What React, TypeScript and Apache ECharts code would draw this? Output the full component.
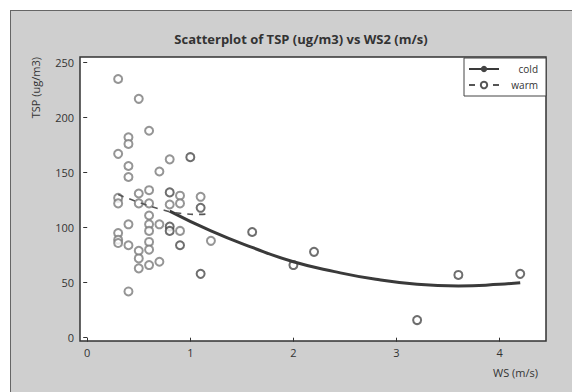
import React, { useEffect, useRef } from "react";
import * as echarts from "echarts";

const coldWS = [0.8, 0.8, 0.8, 0.9, 1.0, 1.1, 1.1, 1.6, 2.0, 2.2, 3.2, 3.6, 4.2];
const coldTSP = [132, 101, 97, 84, 164, 118, 58, 96, 66, 78, 16, 57, 58];

const warmWS = [
  0.3, 0.5, 0.6, 0.4, 0.4, 0.3, 0.8, 0.4, 0.4, 0.7,
  0.3, 0.3, 0.5, 0.6, 0.9, 1.1, 0.5, 0.6, 0.8, 0.9,
  0.6, 0.4, 0.6, 0.7, 0.6, 0.9, 0.3, 0.3, 0.3, 0.4,
  0.6, 0.6, 1.2, 0.5, 0.5, 0.5, 0.6, 0.7, 0.4,
];
const warmTSP = [
  235, 217, 188, 182, 176, 167, 162, 156, 146, 151,
  127, 122, 131, 134, 129, 128, 122, 122, 121, 122,
  111, 103, 103, 103, 97, 97, 95, 89, 86, 84,
  87, 80, 88, 79, 72, 63, 66, 69, 42,
];

const coldFitWS = [0.8, 1.2, 1.6, 2.0, 2.4, 2.8, 3.2, 3.6, 4.0, 4.2];
const coldFitTSP = [115, 97, 82, 69, 60, 53, 48.5, 47, 48.5, 50];

const warmFitWS = [0.3, 0.5, 0.7, 0.9, 1.1, 1.2];
const warmFitTSP = [130, 123, 117, 113, 112, 113];

const xTicks = [0, 1, 2, 3, 4];
const yTicks = [0, 50, 100, 150, 200, 250];

const pair = (xs: number[], ys: number[]) => xs.map((x, i) => [x, ys[i]]);

export default function App() {
  const ref = useRef<HTMLDivElement>(null);
  useEffect(() => {
    document.body.style.margin = "0";
    const chart = echarts.init(ref.current!, null, { renderer: "svg" });
    const font = "'Open Sans', 'DejaVu Sans', sans-serif";
    chart.setOption({
      animation: false,
      backgroundColor: "#cfcfcf",
      textStyle: { fontFamily: font },
      title: {
        text: "Scatterplot of TSP (ug/m3) vs WS2 (m/s)",
        left: 296,
        textAlign: "center",
        top: 27,
        textStyle: { fontSize: 13, fontWeight: "bold", color: "#333", fontFamily: font },
      },
      graphic: [
        { type: "rect", shape: { x: 0, y: 0, width: 572, height: 10 }, style: { fill: "#fff" }, silent: true },
        { type: "rect", shape: { x: 0, y: 0, width: 10, height: 392 }, style: { fill: "#fff" }, silent: true },
        { type: "line", shape: { x1: 10, y1: 10.5, x2: 572, y2: 10.5 }, style: { stroke: "#666", lineWidth: 1 }, silent: true },
        { type: "line", shape: { x1: 10.5, y1: 10, x2: 10.5, y2: 392 }, style: { stroke: "#666", lineWidth: 1 }, silent: true },
        {
          type: "text",
          x: 35,
          y: 57,
          rotation: Math.PI / 2,
          style: {
            text: "TSP (ug/m3)",
            fontSize: 11,
            fontFamily: font,
            fill: "#333",
            align: "right",
            verticalAlign: "middle",
          },
        },
        {
          type: "text",
          x: 538,
          y: 372,
          style: {
            text: "WS (m/s)",
            fontSize: 11,
            fontFamily: font,
            fill: "#333",
            align: "right",
            verticalAlign: "middle",
          },
        },
      ],
      legend: {
        data: ["cold", "warm"],
        orient: "vertical",
        right: 26,
        top: 58,
        itemWidth: 30,
        itemHeight: 8,
        itemGap: 6,
        padding: [6, 8, 6, 4],
        backgroundColor: "#fff",
        borderColor: "#444",
        borderWidth: 1,
        formatter: (name: string) => "{r|" + name + "}",
        textStyle: {
          fontSize: 10,
          color: "#333",
          fontFamily: font,
          rich: { r: { width: 34, align: "right", fontSize: 10, color: "#333" } },
        },
      },
      grid: {
        left: 80,
        right: 26,
        top: 57,
        bottom: 51,
        show: true,
        backgroundColor: "#fff",
        borderColor: "#333",
        borderWidth: 1.5,
      },
      xAxis: {
        type: "value",
        min: -0.07,
        max: 4.45,
        splitLine: { show: false },
        axisLine: { show: false },
        axisTick: { show: true, customValues: xTicks, length: 4, lineStyle: { color: "#333" } },
        axisLabel: { customValues: xTicks, fontSize: 11, color: "#333", margin: 6 },
      },
      yAxis: {
        type: "value",
        min: -3,
        max: 255,
        splitLine: { show: false },
        axisLine: { show: false },
        axisTick: { show: true, customValues: yTicks, length: 4, lineStyle: { color: "#333" } },
        axisLabel: { customValues: yTicks, fontSize: 11, color: "#333", margin: 6 },
      },
      series: [
        {
          name: "cold",
          type: "line",
          data: pair(coldFitWS, coldFitTSP),
          smooth: true,
          symbol: "circle",
          symbolSize: 7,
          showSymbol: false,
          itemStyle: { color: "#444" },
          lineStyle: { color: "#3a3a3a", width: 3 },
          z: 3,
        },
        {
          name: "warm",
          type: "line",
          data: pair(warmFitWS, warmFitTSP),
          smooth: true,
          symbol: "emptyCircle",
          symbolSize: 7,
          showSymbol: false,
          itemStyle: { color: "#555" },
          lineStyle: { color: "#555", width: 1.6, type: [6, 6] },
          z: 3,
        },
        {
          name: "cold",
          type: "scatter",
          data: pair(coldWS, coldTSP),
          symbol: "emptyCircle",
          symbolSize: 8,
          itemStyle: { color: "#4a4a4a", borderWidth: 1.2 },
          z: 2,
        },
        {
          name: "warm",
          type: "scatter",
          data: pair(warmWS, warmTSP),
          symbol: "emptyCircle",
          symbolSize: 8,
          itemStyle: { color: "#7a7a7a", borderWidth: 1 },
          z: 2,
        },
      ],
    });
    return () => chart.dispose();
  }, []);
  return <div ref={ref} style={{ width: 572, height: 392 }} />;
}
